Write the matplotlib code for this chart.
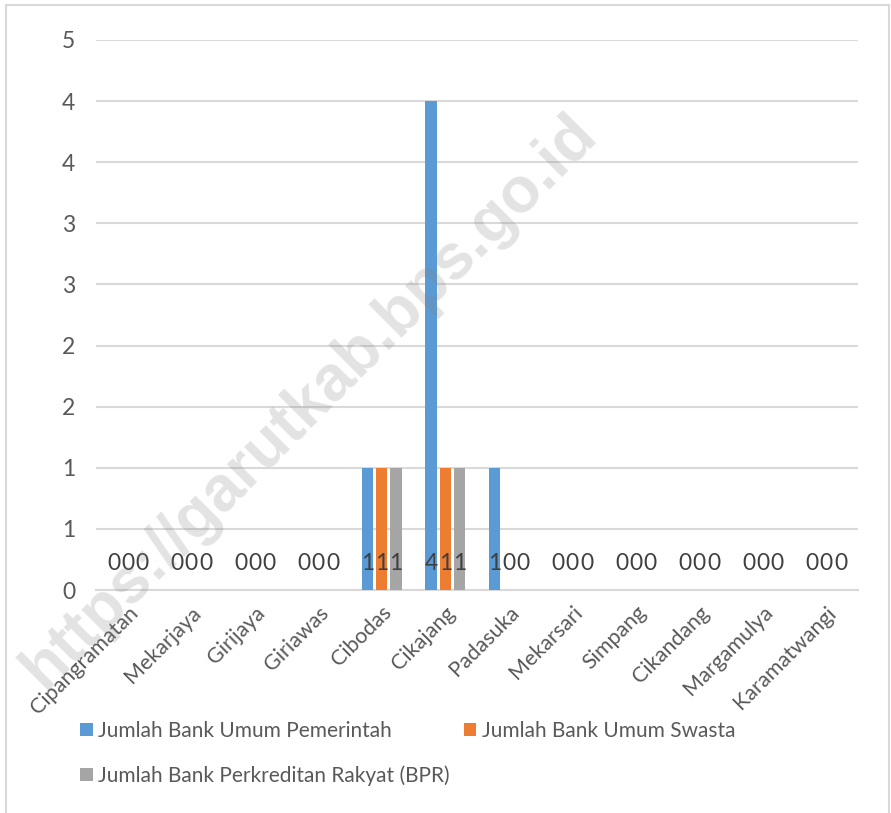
import numpy as np
import matplotlib.pyplot as plt
from matplotlib.ticker import FuncFormatter, MultipleLocator
from matplotlib.lines import Line2D

plt.rcParams.update({
    "font.family": ["Lato", "DejaVu Sans"],
    "font.size": 15,
})

# Data
desa = ['Cipangramatan', 'Mekarjaya', 'Girijaya', 'Giriawas', 'Cibodas', 'Cikajang',
        'Padasuka', 'Mekarsari', 'Simpang', 'Cikandang', 'Margamulya', 'Karamatwangi']
bank_pemerintah = [0, 0, 0, 0, 1, 4, 1, 0, 0, 0, 0, 0]
bank_swasta = [0, 0, 0, 0, 1, 1, 0, 0, 0, 0, 0, 0]
bank_bpr = [0, 0, 0, 0, 1, 1, 0, 0, 0, 0, 0, 0]
series_names = ['Jumlah Bank Umum Pemerintah', 'Jumlah Bank Umum Swasta',
                'Jumlah Bank Perkreditan Rakyat (BPR)']
colors = ['#5B9BD5', '#ED7D31', '#A5A5A5']

fig = plt.figure(figsize=(8.91, 8.13), dpi=100)
ax = fig.add_axes([96 / 891, 1 - 590 / 813, 762 / 891, 550 / 813])

x = np.arange(len(desa))
width = 0.18
offset = 0.225
label_color = '#404040'
for i, (vals, name, c) in enumerate(zip([bank_pemerintah, bank_swasta, bank_bpr], series_names, colors)):
    pos = x + (i - 1) * offset
    ax.bar(pos, vals, width=width, color=c, label=name, zorder=3)
    for p, v in zip(pos, vals):
        ax.text(p, 0.22, str(v), ha='center', va='center', fontsize=16.5,
                color=label_color, zorder=4)

ax.set_xlim(-0.5, len(desa) - 0.5)
ax.set_ylim(0, 4.5)
ax.yaxis.set_major_locator(MultipleLocator(0.5))
ax.yaxis.set_major_formatter(FuncFormatter(lambda v, p: str(int(np.floor(v + 0.5)))))
ax.grid(axis='y', color='#d9d9d9', linewidth=1.5, zorder=0)
ax.set_axisbelow(True)
for s in ['left', 'right', 'top']:
    ax.spines[s].set_visible(False)
ax.spines['bottom'].set_color('#d9d9d9')
ax.spines['bottom'].set_linewidth(1.5)
ax.tick_params(axis='y', length=0, pad=15, labelsize=16.5, labelcolor='#595959')
ax.tick_params(axis='x', length=0, pad=9, labelsize=15.5, labelcolor='#595959')
ax.set_xticks(x)
ax.set_xticklabels(desa, rotation=45, ha='right', rotation_mode='anchor')

# Legend (row-major order like Excel)
handles, labels = ax.get_legend_handles_labels()
order = [0, 2, 1]
fig.legend([handles[i] for i in order], [labels[i] for i in order],
           loc='upper left', bbox_to_anchor=(80 / 891, 1 - 721 / 813), ncol=2,
           frameon=False, fontsize=15, labelcolor='#595959',
           handlelength=0.6, handleheight=0.6, handletextpad=0.25,
           columnspacing=0.7, labelspacing=1.15, borderpad=0, borderaxespad=0)

# Watermark
fig.text(310 / 891, 1 - 402 / 813, 'https://garutkab.bps.go.id', fontsize=46,
         fontweight='bold', family='Liberation Sans', color='#808080', alpha=0.22,
         rotation=45, ha='center', va='center', zorder=10)

# Chart frame
frame_col = '#d9d9d9'
fig.add_artist(Line2D([6 / 891, 889 / 891], [1 - 5 / 813, 1 - 5 / 813], color=frame_col, lw=1.5))
fig.add_artist(Line2D([6 / 891, 6 / 891], [0, 1 - 5 / 813], color=frame_col, lw=1.5))
fig.add_artist(Line2D([889 / 891, 889 / 891], [0, 1 - 5 / 813], color=frame_col, lw=1.5))

fig.savefig('out.png', dpi=100)
